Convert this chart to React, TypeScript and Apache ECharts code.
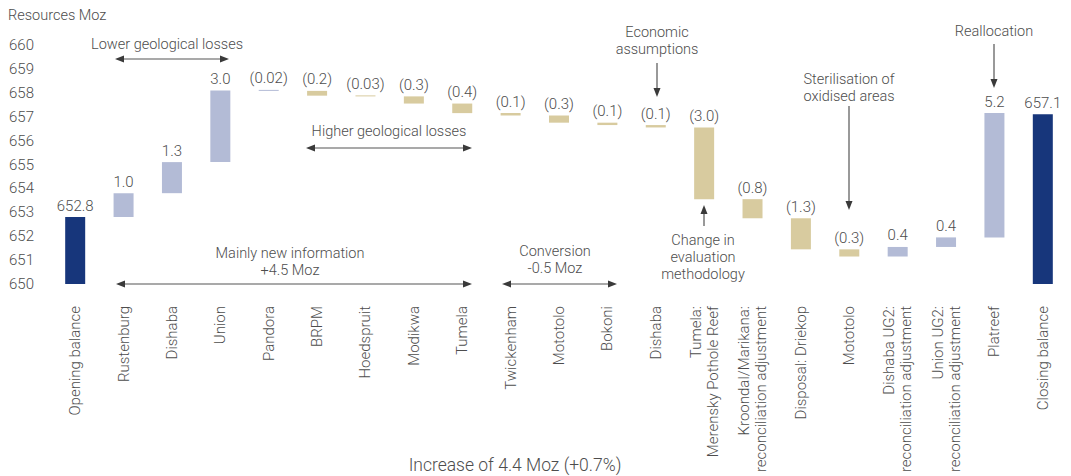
import React, { useEffect, useRef } from "react";
import * as echarts from "echarts";

const categories = [
  "Opening balance",
  "Rustenburg",
  "Dishaba",
  "Union",
  "Pandora",
  "BRPM",
  "Hoedspruit",
  "Modikwa",
  "Tumela",
  "Twickenham",
  "Mototolo",
  "Bokoni",
  "Dishaba",
  "Tumela:\nMerensky Pothole Reef",
  "Kroondal/Marikana:\nreconciliation adjustment",
  "Disposal: Driekop",
  "Mototolo",
  "Dishaba UG2:\nreconciliation adjustment",
  "Union UG2:\nreconciliation adjustment",
  "Platreef",
  "Closing balance",
];

const openingBalance = 652.8;
const closingBalance = 657.1;
// movements between opening and closing (null = total column)
const deltas = [
  null, 1.0, 1.3, 3.0, -0.02, -0.2, -0.03, -0.3, -0.4, -0.1, -0.3, -0.1, -0.1,
  -3.0, -0.8, -1.3, -0.3, 0.4, 0.4, 5.2, null,
];
const valueLabels = [
  "652.8", "1.0", "1.3", "3.0", "(0.02)", "(0.2)", "(0.03)", "(0.3)", "(0.4)",
  "(0.1)", "(0.3)", "(0.1)", "(0.1)", "(3.0)", "(0.8)", "(1.3)", "(0.3)",
  "0.4", "0.4", "5.2", "657.1",
];
// colour group of each column
const colorGroups = [
  "total", "up", "up", "up", "up", "down", "down", "down", "down", "down",
  "down", "down", "down", "down", "down", "down", "down", "up", "up", "up",
  "total",
];
const yTicks = { min: 650, max: 660, interval: 1 };

const COLORS: Record<string, string> = {
  total: "#17367b",
  up: "#b3bbd6",
  down: "#d8cb9f",
};
const TXT = "#4d4d4d";
const FONT = "Roboto, 'Open Sans', sans-serif";

function buildSeries() {
  const base: number[] = [];
  const size: number[] = [];
  let cum = openingBalance;
  deltas.forEach((d, i) => {
    if (d === null) {
      const v = i === 0 ? openingBalance : closingBalance;
      base.push(0);
      size.push(v);
    } else {
      const next = cum + d;
      base.push(Math.min(cum, next));
      size.push(Math.abs(d));
      cum = next;
    }
  });
  return { base, size };
}

function arrowHead(x: number, y: number, dir: "l" | "r" | "u" | "d") {
  const L = 9;
  const W = 3.5;
  let pts: number[][];
  if (dir === "l") pts = [[x, y], [x + L, y - W], [x + L, y + W]];
  else if (dir === "r") pts = [[x, y], [x - L, y - W], [x - L, y + W]];
  else if (dir === "u") pts = [[x, y], [x - W, y + L], [x + W, y + L]];
  else pts = [[x, y], [x - W, y - L], [x + W, y - L]];
  return {
    type: "polygon",
    shape: { points: pts },
    style: { fill: "#3a3a3a" },
    silent: true,
  };
}

function line(x1: number, y1: number, x2: number, y2: number) {
  return {
    type: "line",
    shape: { x1, y1, x2, y2 },
    style: { stroke: "#555", lineWidth: 1.2 },
    silent: true,
  };
}

function hArrow(x1: number, x2: number, y: number) {
  return [line(x1 + 4, y, x2 - 4, y), arrowHead(x1, y, "l"), arrowHead(x2, y, "r")];
}

function vArrow(x: number, y1: number, y2: number, dir: "u" | "d") {
  return [
    line(x, dir === "u" ? y1 + 4 : y1, x, dir === "d" ? y2 - 4 : y2),
    arrowHead(x, dir === "u" ? y1 : y2, dir),
  ];
}

function txt(x: number, y: number, text: string, size = 14.5, align = "center") {
  return {
    type: "text",
    x,
    y,
    silent: true,
    style: {
      text,
      fill: TXT,
      font: `${size}px ${FONT}`,
      fontFamily: FONT,
      fontSize: size,
      fontWeight: 300,
      align,
      verticalAlign: "middle",
      lineHeight: 17,
    },
  };
}

export default function App() {
  const ref = useRef<HTMLDivElement>(null);
  useEffect(() => {
    if (!ref.current) return;
    const chart = echarts.init(ref.current, null, { renderer: "svg" });
    const { base, size } = buildSeries();
    const graphic: any[] = [
      txt(8, 15, "Resources Moz", 14.5, "left"),
      txt(167, 44, "Lower geological losses"),
      ...hArrow(115, 229, 59),
      txt(389, 131, "Higher geological losses"),
      ...hArrow(306, 472, 148),
      txt(290, 262, "Mainly new information\n+4.5 Moz"),
      ...hArrow(116, 472, 284),
      txt(555, 260, "Conversion\n-0.5 Moz"),
      ...hArrow(502, 617, 284),
      txt(657, 41, "Economic\nassumptions"),
      ...vArrow(657, 63, 97, "d"),
      txt(703, 257, "Change in\nevaluation\nmethodology"),
      ...vArrow(704, 205, 226, "u"),
      txt(849, 88, "Sterilisation of\noxidised areas"),
      ...vArrow(849, 106, 210, "d"),
      txt(994, 31, "Reallocation"),
      ...vArrow(994, 44, 88, "d"),
      txt(515, 465, "Increase of 4.4 Moz (+0.7%)", 17.5),
    ];
    chart.setOption({
      animation: false,
      textStyle: { fontFamily: FONT, fontWeight: 300 },
      grid: { left: 51, right: 4, top: 45, bottom: 192, containLabel: false },
      xAxis: {
        type: "category",
        data: categories,
        axisLine: { show: false },
        axisTick: { show: false },
        axisLabel: {
          rotate: 90,
          interval: 0,
          margin: 22,
          fontSize: 15,
          lineHeight: 17,
          color: TXT,
          fontFamily: FONT,
          fontWeight: 300,
        },
      },
      yAxis: {
        type: "value",
        min: yTicks.min,
        max: yTicks.max,
        interval: yTicks.interval,
        splitLine: { show: false },
        axisLine: { show: false },
        axisTick: { show: false },
        axisLabel: {
          align: "left",
          margin: 42,
          fontSize: 15,
          color: TXT,
          fontFamily: FONT,
          fontWeight: 300,
        },
      },
      series: [
        {
          type: "bar",
          stack: "wf",
          data: base,
          barWidth: 20,
          itemStyle: { color: "transparent" },
          silent: true,
        },
        {
          type: "bar",
          stack: "wf",
          barWidth: 20,
          barMinHeight: 1,
          data: size.map((v, i) => ({
            value: v,
            itemStyle: { color: COLORS[colorGroups[i]] },
          })),
          label: {
            show: true,
            position: "top",
            distance: 4,
            fontSize: 15,
            color: TXT,
            fontFamily: FONT,
            fontWeight: 300,
            formatter: (p: any) => valueLabels[p.dataIndex],
          },
        },
      ],
      graphic,
    });
    return () => chart.dispose();
  }, []);
  return (
    <div
      ref={ref}
      style={{ position: "absolute", left: 0, top: 0, width: 1071, height: 476 }}
    />
  );
}
